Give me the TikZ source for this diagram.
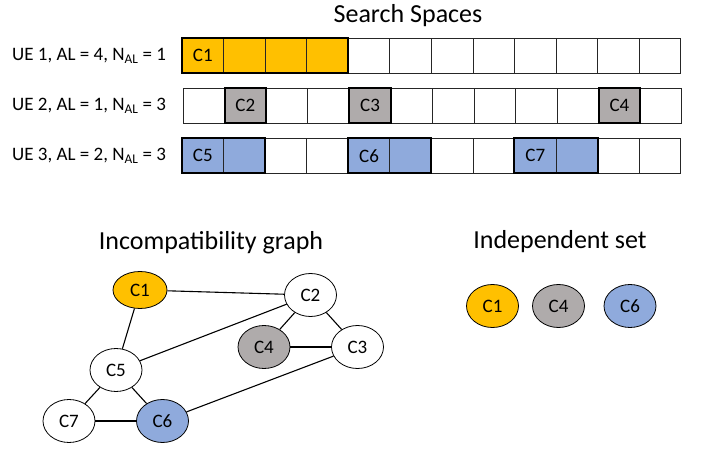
\documentclass[tikz,border=0pt]{standalone}
\usepackage{fontspec}
\setmainfont{Carlito}
\usetikzlibrary{shapes.geometric}
\definecolor{cOr}{HTML}{FFC000}
\definecolor{cGr}{HTML}{AFABAB}
\definecolor{cBl}{HTML}{8FAADC}
\begin{document}
\begin{tikzpicture}[x=1pt,y=-1pt,
  cell/.style={draw=black!85,line width=0.8pt,minimum width=41.56pt,minimum height=35pt,inner sep=0pt,outer sep=0pt,font=\fontsize{19}{19}\selectfont},
  grp/.style={draw=black,line width=2pt},
  lbl/.style={anchor=west,inner sep=0pt,font=\fontsize{19}{19}\selectfont},
  ttl/.style={inner sep=0pt,font=\fontsize{26}{26}\selectfont},
  gn/.style={ellipse,draw=black,line width=0.8pt,minimum width=52pt,minimum height=43pt,inner sep=0pt,font=\fontsize{19}{19}\selectfont},
  ed/.style={line width=1.1pt,draw=black}]
\useasboundingbox (0,0) rectangle (702,452);
\node[ttl] (title) at (408,16) {Search Spaces};
% row labels
\node[lbl] (l1) at (12,55.8) {UE 1, AL = 4, N\textsubscript{AL} = 1};
\node[lbl] (l2) at (12,105.8) {UE 2, AL = 1, N\textsubscript{AL} = 3};
\node[lbl] (l3) at (12,155.8) {UE 3, AL = 2, N\textsubscript{AL} = 3};
% row 1
\foreach \i/\f/\t in {0/cOr/C1,1/cOr/{},2/cOr/{},3/cOr/{},4/white/{},5/white/{},6/white/{},7/white/{},8/white/{},9/white/{},10/white/{},11/white/{}}
  \node[cell,fill=\f] (r1c\i) at ({202.78+41.56*\i},55.8) {\t};
% row 2
\foreach \i/\f/\t in {0/white/{},1/cGr/C2,2/white/{},3/white/{},4/cGr/C3,5/white/{},6/white/{},7/white/{},8/white/{},9/white/{},10/cGr/C4,11/white/{}}
  \node[cell,fill=\f] (r2c\i) at ({203.78+41.56*\i},105.8) {\t};
% row 3
\foreach \i/\f/\t in {0/cBl/C5,1/cBl/{},2/white/{},3/white/{},4/cBl/C6,5/cBl/{},6/white/{},7/white/{},8/cBl/C7,9/cBl/{},10/white/{},11/white/{}}
  \node[cell,fill=\f] (r3c\i) at ({202.78+41.56*\i},155.8) {\t};
% group outlines
\draw[grp] (r1c0.north west) rectangle (r1c3.south east);
\draw[grp] (r2c1.north west) rectangle (r2c1.south east);
\draw[grp] (r2c4.north west) rectangle (r2c4.south east);
\draw[grp] (r2c10.north west) rectangle (r2c10.south east);
\draw[grp] (r3c0.north west) rectangle (r3c1.south east);
\draw[grp] (r3c4.north west) rectangle (r3c5.south east);
\draw[grp] (r3c8.north west) rectangle (r3c9.south east);
% titles
\node[ttl] (tg) at (211,243) {Incompatibility graph};
\node[ttl] (ti) at (560,242) {Independent set};
% graph
\node[gn,fill=cOr,minimum width=54pt,minimum height=37pt] (g1) at (140,290) {C1};
\node[gn,fill=white] (g2) at (310.5,295) {C2};
\node[gn,fill=white] (g3) at (357.5,347) {C3};
\node[gn,fill=cGr] (g4) at (264,347) {C4};
\node[gn,fill=white] (g5) at (116,370) {C5};
\node[gn,fill=cBl] (g6) at (162.5,421) {C6};
\node[gn,fill=white] (g7) at (69,421) {C7};
\draw[ed] (g1) -- (g2);
\draw[ed] (g1) -- (g5);
\draw[ed] (g2) -- (g5);
\draw[ed] (g2) -- (g4);
\draw[ed] (g2) -- (g3);
\draw[ed] (g4) -- (g3);
\draw[ed] (g3) -- (g6);
\draw[ed] (g5) -- (g7);
\draw[ed] (g5) -- (g6);
\draw[ed] (g7) -- (g6);
% independent set
\node[gn,fill=cOr] (i1) at (492.5,306) {C1};
\node[gn,fill=cGr] (i4) at (558.5,306) {C4};
\node[gn,fill=cBl] (i6) at (630,306) {C6};
\end{tikzpicture}
\end{document}
